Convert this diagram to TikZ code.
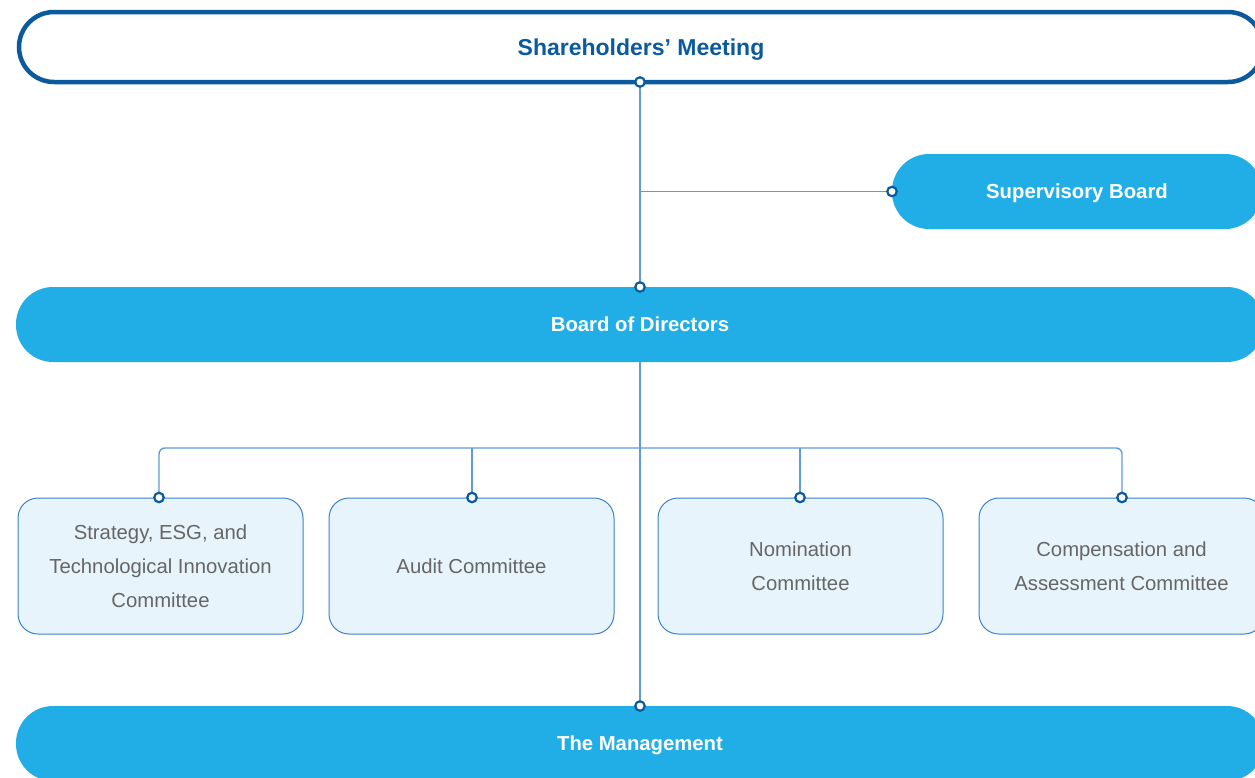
\documentclass[tikz,border=0pt]{standalone}
\usepackage{fontspec}
\setmainfont{Liberation Sans}
\definecolor{dblue}{HTML}{0B5A9E}
\definecolor{cyanfill}{HTML}{21AEE6}
\definecolor{linecol}{HTML}{5F9BD9}
\definecolor{comfill}{HTML}{E8F4FC}
\definecolor{comdraw}{HTML}{3B82CC}
\definecolor{greytxt}{HTML}{666666}
\tikzset{
  pill/.style={rectangle, rounded corners=37pt, fill=cyanfill, text=white, inner sep=0pt,
    minimum height=75pt, text depth=0pt, font=\fontsize{20.3}{24}\selectfont\bfseries},
  topbox/.style={rectangle, rounded corners=35pt, draw=dblue, line width=4.5pt, fill=white, text=dblue,
    inner sep=0pt, minimum width=1244pt, minimum height=70pt, text depth=0pt,
    font=\fontsize{23}{27}\selectfont\bfseries},
  combox/.style={rectangle, rounded corners=20pt, draw=comdraw, line width=1pt, fill=comfill, text=greytxt,
    inner sep=0pt, minimum width=285pt, minimum height=136pt, align=center,
    font=\fontsize{20.3}{34}\selectfont},
  conn/.style={draw=linecol, line width=1.4pt},
  dot/.style={circle, draw=dblue, fill=white, line width=2.2pt, inner sep=0pt, minimum size=9.5pt},
}
\begin{document}
\begin{tikzpicture}[x=1pt,y=-1pt]
\useasboundingbox (0,0) rectangle (1255,777);
\clip (0,0) rectangle (1255,777);
% nodes
\node[topbox] (sm) at (641,47) {Shareholders’ Meeting};
\node[pill, minimum width=370pt] (sb) at (1077,191.5) {Supervisory Board};
\node[pill, minimum width=1248pt] (bd) at (640,324.5) {Board of Directors};
\node[pill, minimum width=1248pt] (mg) at (640,743.5) {The Management};
\node[combox] (c1) at (160.5,566) {\raisebox{-2pt}{\parbox{280pt}{\centering Strategy, ESG, and\\Technological Innovation\\Committee}}};
\node[combox] (c2) at (471.5,566) {Audit Committee};
\node[combox] (c3) at (800.5,566) {Nomination\\Committee};
\node[combox] (c4) at (1121.5,566) {Compensation and\\Assessment Committee};
% anchor points
\coordinate (smb) at (640,82);
\coordinate (bdt) at (640,287);
\coordinate (bdb) at (640,362);
\coordinate (mgt) at (640,706);
\coordinate (sbl) at (892,191.5);
\coordinate (j1) at (640,191.5);
\coordinate (d1) at (159,497.5);
\coordinate (d2) at (472,497.5);
\coordinate (d3) at (800,497.5);
\coordinate (d4) at (1122,497.5);
% connectors
\draw[conn] (smb) -- (bdt);
\draw[conn] (j1) -- (sbl);
\draw[conn] (bdb) -- (mgt);
\draw[conn, rounded corners=6pt] (d1) -- (159,448) -- (1122,448) -- (d4);
\draw[conn] (472,448) -- (d2);
\draw[conn] (800,448) -- (d3);
% dots
\foreach \p in {smb,bdt,mgt,sbl,d1,d2,d3,d4}{\node[dot] at (\p) {};}
\end{tikzpicture}
\end{document}
